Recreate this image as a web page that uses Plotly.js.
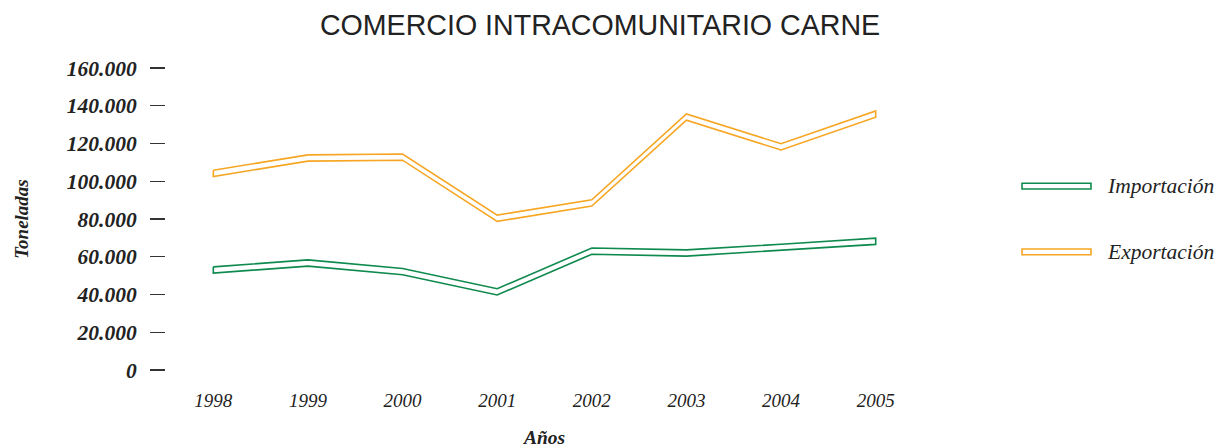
<!DOCTYPE html>
<html>
<head>
<meta charset="utf-8">
<script src="https://cdn.plot.ly/plotly-3.0.1.min.js"></script>
<style>html,body{margin:0;padding:0;background:#fff;}#chart{width:1226px;height:448px;}</style>
</head>
<body>
<div id="chart"></div>
<script>
// ---- data ----
const years = ['1998', '1999', '2000', '2001', '2002', '2003', '2004', '2005'];
const importacion = [53000, 56700, 52100, 41400, 63000, 62000, 65000, 68200];
const exportacion = [104200, 112300, 112800, 80400, 88500, 134000, 118200, 135600];
const seriesNames = ['Importación', 'Exportación'];
const yTickVals = [0, 20000, 40000, 60000, 80000, 100000, 120000, 140000, 160000];

// ---- style ----
const colors = ['#0e8a4e', '#f6a623'];
const ribbonDepth = 3300; // vertical thickness of the ribbon, in axis units
const serif = 'Liberation Serif, Times New Roman, serif';

function ribbon(values, name, color) {
  const top = values.map(v => v + ribbonDepth / 2);
  const bottom = values.map(v => v - ribbonDepth / 2);
  const xs = years.concat(years.slice().reverse(), [years[0]]);
  const ys = top.concat(bottom.slice().reverse(), [top[0]]);
  return {
    type: 'scatter', mode: 'lines', name: name,
    x: xs, y: ys,
    fill: 'toself', fillcolor: '#ffffff',
    line: {color: color, width: 1.6, shape: 'linear'},
    showlegend: false, hoverinfo: 'skip'
  };
}

const traces = [
  ribbon(importacion, seriesNames[0], colors[0]),
  ribbon(exportacion, seriesNames[1], colors[1])
];

// manual legend: outlined bar + italic label
const legendY = [0.609, 0.391];
const shapes = [];
const annotations = [];
seriesNames.forEach((n, i) => {
  shapes.push({
    type: 'rect', xref: 'paper', yref: 'paper', layer: 'above',
    x0: 1.1308, x1: 1.2219, y0: legendY[i] - 0.0095, y1: legendY[i] + 0.0095,
    line: {color: colors[i], width: 1.6}, fillcolor: '#ffffff'
  });
  annotations.push({
    xref: 'paper', yref: 'paper', x: 1.241, y: legendY[i],
    xanchor: 'left', yanchor: 'middle', showarrow: false,
    text: n, font: {family: serif, size: 21.5, color: '#222', style: 'italic'}
  });
});

const layout = {
  width: 1226, height: 448,
  margin: {l: 166, r: 303, t: 68, b: 78},
  paper_bgcolor: '#ffffff', plot_bgcolor: '#ffffff',
  separators: ',.',
  showlegend: false,
  title: {
    text: 'COMERCIO INTRACOMUNITARIO CARNE',
    font: {family: 'Liberation Sans, Arial, sans-serif', size: 28.6, color: '#222'},
    x: 600 / 1226, xanchor: 'center', xref: 'container',
    y: 1 - 25 / 448, yref: 'container', yanchor: 'middle'
  },
  xaxis: {
    type: 'category', categoryorder: 'array', categoryarray: years,
    range: [-0.5, 7.5], showgrid: false, zeroline: false, showline: false,
    ticks: '', ticklabelstandoff: 17,
    tickfont: {family: serif, size: 19, color: '#222', style: 'italic'},
    title: {text: 'Años', standoff: 24,
      font: {family: serif, size: 19.5, color: '#222', weight: 'bold', style: 'italic'}}
  },
  yaxis: {
    range: [0, 160000], tickvals: yTickVals, tickformat: ',d',
    showgrid: false, zeroline: false, showline: false,
    ticks: 'outside', ticklen: 15, tickwidth: 1.1, tickcolor: '#333',
    ticklabelstandoff: 9,
    tickfont: {family: serif, size: 21.5, color: '#222', weight: 'bold', style: 'italic'},
    title: {text: 'Toneladas', standoff: 33,
      font: {family: serif, size: 19, color: '#222', weight: 'bold', style: 'italic'}}
  },
  shapes: shapes,
  annotations: annotations
};

Plotly.newPlot('chart', traces, layout, {displayModeBar: false, staticPlot: true});
</script>
</body>
</html>
